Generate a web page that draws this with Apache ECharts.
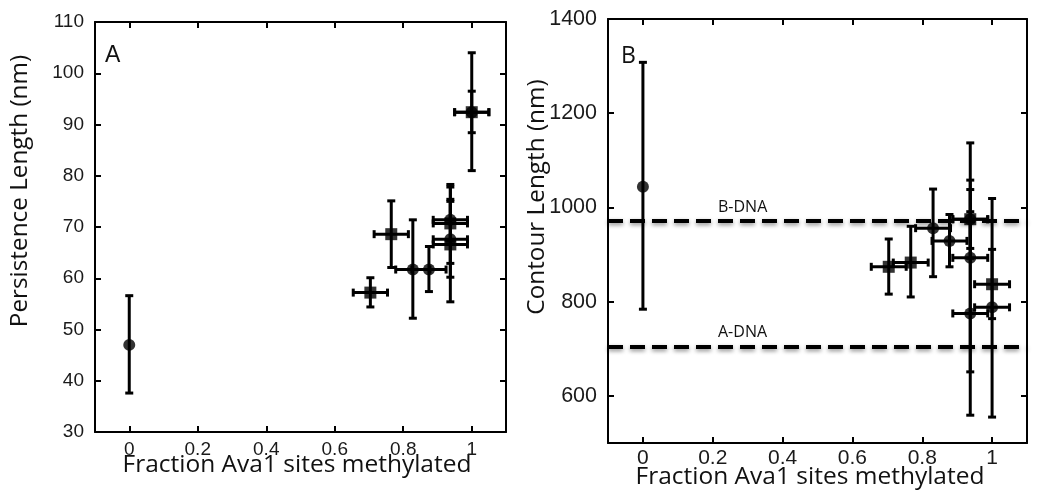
<!DOCTYPE html>
<html>
<head>
<meta charset="utf-8">
<script src="https://cdn.jsdelivr.net/npm/echarts@6/dist/echarts.min.js"></script>
<style>
  html, body { margin: 0; padding: 0; background: #fff; }
  #chart { width: 1050px; height: 504px; }
</style>
</head>
<body>
<div id="chart"></div>
<script>
// panel A: persistence length
const aX = [0, 0.704, 0.765, 0.828, 0.875, 0.9375, 0.9375, 0.9375, 0.9375, 1, 1]
const aY = [47, 57.2, 68.6, 61.7, 61.7, 71.4, 70.7, 67.6, 66.6, 92.4, 92.4]
const aLow = [37.6, 54.4, 62.1, 52.2, 57.4, 67.4, 62.9, 60.2, 55.4, 81, 88.4]
const aHigh = [56.6, 60.1, 75.1, 71.4, 66.2, 75.4, 78.3, 75.0, 77.8, 104, 96.5]
const aXErr = [0, 0.05, 0.05, 0.05, 0.05, 0.05, 0.05, 0.05, 0.05, 0.05, 0.05]
const aShape = ['circle', 'rect', 'rect', 'circle', 'circle', 'circle', 'rect', 'circle', 'rect', 'rect', 'circle']

// panel B: contour length
const bX = [0, 0.704, 0.767, 0.831, 0.878, 0.9375, 0.9375, 0.9375, 0.9375, 1, 1]
const bY = [1044, 874, 883, 956, 929, 975, 975, 893, 775, 837, 788]
const bLow = [784, 816, 810, 853, 874, 913, 892, 651, 559, 764, 555]
const bHigh = [1308, 933, 960, 1039, 985, 1038, 1058, 1137, 991, 911, 1019]
const bXErr = [0, 0.05, 0.05, 0.05, 0.05, 0.05, 0.05, 0.05, 0.05, 0.05, 0.05]
const bShape = ['circle', 'rect', 'rect', 'circle', 'circle', 'rect', 'circle', 'circle', 'circle', 'rect', 'circle']

// reference lines in B
const refY = [971, 704]
const refNames = ['B-DNA', 'A-DNA']

const xTicks = [0, 0.2, 0.4, 0.6, 0.8, 1]
const bYTicks = [600, 800, 1000, 1200, 1400]

const titleFont = 'Open Sans'
const frame = { show: true, onZero: false, lineStyle: { color: '#000', width: 2 } }

function tickFont (size) {
  return { fontFamily: 'Liberation Sans', fontSize: size, color: '#1a1a1a', formatter: v => String(v) }
}

function errBars (params, api) {
  const x = api.value(0)
  const y = api.value(1)
  const lo = api.value(2)
  const hi = api.value(3)
  const xe = api.value(4)
  const style = { stroke: '#000', lineWidth: 3 }
  const cap = 4
  const pLo = api.coord([x, lo])
  const pHi = api.coord([x, hi])
  const children = [
    { type: 'line', shape: { x1: pLo[0], y1: pLo[1], x2: pHi[0], y2: pHi[1] }, style },
    { type: 'line', shape: { x1: pLo[0] - cap, y1: pLo[1], x2: pLo[0] + cap, y2: pLo[1] }, style },
    { type: 'line', shape: { x1: pHi[0] - cap, y1: pHi[1], x2: pHi[0] + cap, y2: pHi[1] }, style }
  ]
  if (xe > 0) {
    const pL = api.coord([x - xe, y])
    const pR = api.coord([x + xe, y])
    children.push(
      { type: 'line', shape: { x1: pL[0], y1: pL[1], x2: pR[0], y2: pR[1] }, style },
      { type: 'line', shape: { x1: pL[0], y1: pL[1] - cap, x2: pL[0], y2: pL[1] + cap }, style },
      { type: 'line', shape: { x1: pR[0], y1: pR[1] - cap, x2: pR[0], y2: pR[1] + cap }, style }
    )
  }
  return { type: 'group', children }
}

function markers (xs, ys, shapes, shape) {
  const out = []
  xs.forEach((x, i) => {
    if (shapes[i] === shape) out.push([x, ys[i]])
  })
  return out
}

function errData (xs, ys, lo, hi, xe) {
  return xs.map((x, i) => [x, ys[i], lo[i], hi[i], xe[i]])
}

function xAxes (gridIndex, labelMargin, fontSize) {
  const tick = { inside: true, length: 6, customValues: xTicks, lineStyle: { color: '#000', width: 2 } }
  return [{
    gridIndex, type: 'value', min: -0.1, max: 1.1, position: 'bottom',
    axisLine: frame,
    axisTick: tick,
    axisLabel: Object.assign({ customValues: xTicks, margin: labelMargin }, tickFont(fontSize)),
    splitLine: { show: false }
  }, {
    gridIndex, type: 'value', min: -0.1, max: 1.1, position: 'top',
    axisLine: frame,
    axisTick: tick,
    axisLabel: { show: false },
    splitLine: { show: false }
  }]
}

function yAxes (gridIndex, min, max, interval, ticks, fontSize) {
  const tick = { inside: true, length: 6, lineStyle: { color: '#000', width: 2 } }
  const label = Object.assign({ margin: 11 }, tickFont(fontSize))
  if (ticks) {
    tick.customValues = ticks
    label.customValues = ticks
  }
  return [{
    gridIndex, type: 'value', min, max, interval, position: 'left',
    axisLine: frame, axisTick: tick, axisLabel: label, splitLine: { show: false }
  }, {
    gridIndex, type: 'value', min, max, interval, position: 'right',
    axisLine: frame, axisTick: tick, axisLabel: { show: false }, splitLine: { show: false }
  }]
}

const option = {
  animation: false,
  grid: [
    { left: 95, right: 544, top: 22, bottom: 72 },
    { left: 608, right: 23, top: 19, bottom: 61 }
  ],
  xAxis: [...xAxes(0, 8, 19), ...xAxes(1, 5, 21)],
  yAxis: [...yAxes(0, 30, 110, 10, null, 19), ...yAxes(1, 500, 1400, undefined, bYTicks, 21.5)],
  series: [
    {
      type: 'line',
      xAxisIndex: 2,
      yAxisIndex: 2,
      data: [],
      markLine: {
        silent: true,
        symbol: 'none',
        lineStyle: {
          color: '#000',
          width: 4,
          type: [15, 7],
          shadowColor: 'rgba(0,0,0,0.45)',
          shadowBlur: 4,
          shadowOffsetY: 2
        },
        label: {
          show: true,
          position: 'insideStartTop',
          distance: [110, 6],
          formatter: p => p.name,
          fontFamily: titleFont,
          fontSize: 16,
          color: '#111'
        },
        data: refY.map((v, i) => ({ yAxis: v, name: refNames[i] }))
      }
    },
    {
      type: 'custom',
      xAxisIndex: 0,
      yAxisIndex: 0,
      renderItem: errBars,
      encode: { x: 0, y: 1 },
      data: errData(aX, aY, aLow, aHigh, aXErr),
      z: 3
    },
    {
      type: 'custom',
      xAxisIndex: 2,
      yAxisIndex: 2,
      renderItem: errBars,
      encode: { x: 0, y: 1 },
      data: errData(bX, bY, bLow, bHigh, bXErr),
      z: 3
    },
    { type: 'scatter', xAxisIndex: 0, yAxisIndex: 0, symbol: 'circle', symbolSize: 12, itemStyle: { color: '#000' }, data: markers(aX, aY, aShape, 'circle'), z: 4 },
    { type: 'scatter', xAxisIndex: 0, yAxisIndex: 0, symbol: 'rect', symbolSize: 12, itemStyle: { color: '#000' }, data: markers(aX, aY, aShape, 'rect'), z: 4 },
    { type: 'scatter', xAxisIndex: 2, yAxisIndex: 2, symbol: 'circle', symbolSize: 12, itemStyle: { color: '#000' }, data: markers(bX, bY, bShape, 'circle'), z: 4 },
    { type: 'scatter', xAxisIndex: 2, yAxisIndex: 2, symbol: 'rect', symbolSize: 12, itemStyle: { color: '#000' }, data: markers(bX, bY, bShape, 'rect'), z: 4 }
  ],
  graphic: [
    { type: 'text', left: 105, top: 44, style: { text: 'A', font: '23px Liberation Sans', fill: '#111' } },
    { type: 'text', left: 621, top: 45, style: { text: 'B', font: '23px Open Sans', fill: '#111' } },
    { type: 'text', x: 297, y: 465, style: { text: 'Fraction Ava1 sites methylated', font: '24.5px Open Sans', fill: '#111', align: 'center', verticalAlign: 'middle' } },
    { type: 'text', x: 810, y: 477, style: { text: 'Fraction Ava1 sites methylated', font: '24.5px Open Sans', fill: '#111', align: 'center', verticalAlign: 'middle' } },
    { type: 'text', x: 20, y: 191, rotation: Math.PI / 2, style: { text: 'Persistence Length (nm)', font: '24.3px Open Sans', fill: '#111', align: 'center', verticalAlign: 'middle' } },
    { type: 'text', x: 537, y: 197, rotation: Math.PI / 2, style: { text: 'Contour Length (nm)', font: '24.3px Open Sans', fill: '#111', align: 'center', verticalAlign: 'middle' } }
  ]
}

const chart = echarts.init(document.getElementById('chart'))
chart.setOption(option)
</script>
</body>
</html>
